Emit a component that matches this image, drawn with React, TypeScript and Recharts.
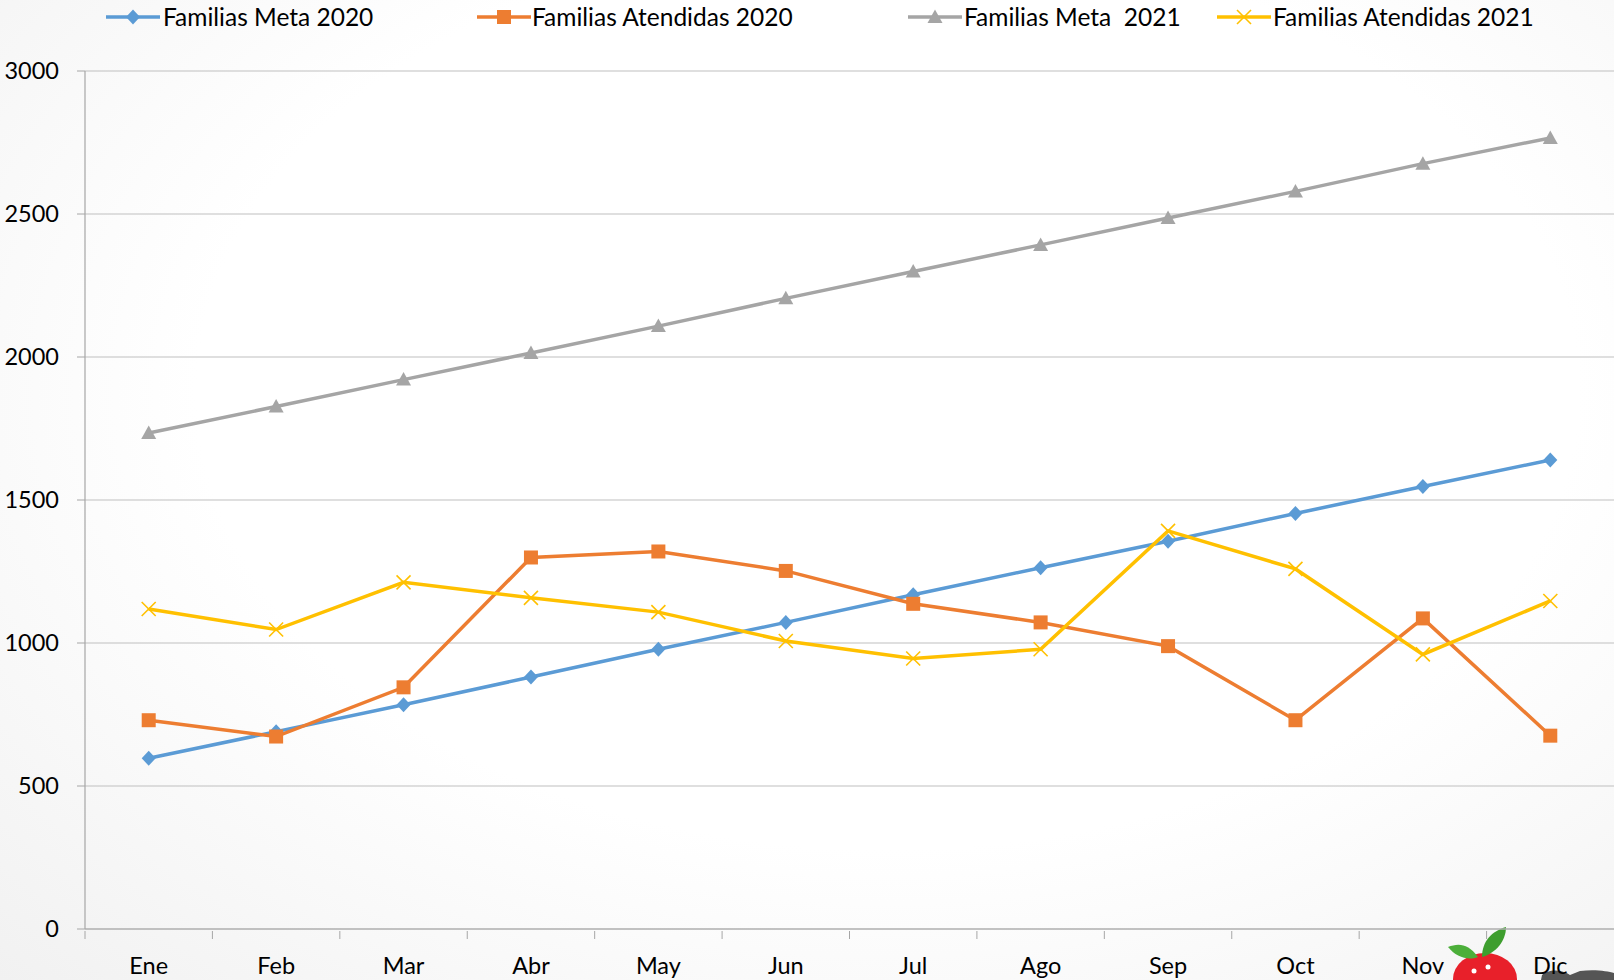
import React from 'react';
import { LineChart, Line, XAxis, YAxis, CartesianGrid } from 'recharts';

const months = ['Ene', 'Feb', 'Mar', 'Abr', 'May', 'Jun', 'Jul', 'Ago', 'Sep', 'Oct', 'Nov', 'Dic'];
const meta2020 = [597, 690, 784, 881, 978, 1072, 1169, 1263, 1356, 1453, 1547, 1640];
const atendidas2020 = [730, 673, 845, 1299, 1320, 1252, 1137, 1072, 989, 730, 1086, 676];
const meta2021 = [1734, 1827, 1921, 2014, 2108, 2205, 2299, 2392, 2486, 2579, 2676, 2766];
const atendidas2021 = [1119, 1047, 1212, 1158, 1108, 1007, 946, 978, 1392, 1259, 960, 1147];
const yTicks = [0, 500, 1000, 1500, 2000, 2500, 3000];

const W = 1614;
const H = 980;
const AXIS_X = 85;
const BAND = (W - AXIS_X) / 12;
const FONT = "Lato, 'Open Sans', sans-serif";

const data = months.map((m, i) => ({
  month: m,
  meta2020: meta2020[i],
  atendidas2020: atendidas2020[i],
  meta2021: meta2021[i],
  atendidas2021: atendidas2021[i],
}));

type Shape = 'diamond' | 'square' | 'triangle' | 'x';

const series: { key: string; name: string; color: string; shape: Shape; lineX: number; textX: number }[] = [
  { key: 'meta2020', name: 'Familias Meta 2020', color: '#5b9bd5', shape: 'diamond', lineX: 106, textX: 163 },
  { key: 'atendidas2020', name: 'Familias Atendidas 2020', color: '#ed7d31', shape: 'square', lineX: 477, textX: 532 },
  { key: 'meta2021', name: 'Familias Meta  2021', color: '#a5a5a5', shape: 'triangle', lineX: 908, textX: 964 },
  { key: 'atendidas2021', name: 'Familias Atendidas 2021', color: '#ffc000', shape: 'x', lineX: 1217, textX: 1273 },
];

const marker = (shape: Shape, cx: number, cy: number, color: string, key?: string | number) => {
  switch (shape) {
    case 'diamond':
      return <polygon key={key} points={`${cx},${cy - 7.5} ${cx + 7},${cy} ${cx},${cy + 7.5} ${cx - 7},${cy}`} fill={color} />;
    case 'square':
      return <rect key={key} x={cx - 7} y={cy - 7} width={14} height={14} fill={color} />;
    case 'triangle':
      return <polygon key={key} points={`${cx},${cy - 7.5} ${cx + 7.5},${cy + 6} ${cx - 7.5},${cy + 6}`} fill={color} />;
    default:
      return (
        <g key={key} stroke={color} strokeWidth={1.6}>
          <line x1={cx - 7} y1={cy - 7} x2={cx + 7} y2={cy + 7} />
          <line x1={cx - 7} y1={cy + 7} x2={cx + 7} y2={cy - 7} />
        </g>
      );
  }
};

const MonthTick = (props: any) => {
  const { x, y, payload } = props;
  return (
    <g>
      <line x1={x - BAND / 2} y1={y} x2={x - BAND / 2} y2={y + 8} stroke="#a6a6a6" />
      <text x={x} y={y + 43} textAnchor="middle" fill="#000" fontSize={23.5} fontFamily={FONT}>
        {payload.value}
      </text>
    </g>
  );
};

const App = () => {
  return (
    <div
      style={{
        position: 'absolute',
        left: 0,
        top: 0,
        width: W,
        height: H,
        overflow: 'hidden',
        background: 'radial-gradient(ellipse at 55% 40%, #ffffff 55%, #f1f1f1 100%)',
        fontFamily: FONT,
      }}
    >
      {/* logo in the bottom-right corner, behind the chart */}
      <svg width={184} height={60} style={{ position: 'absolute', left: 1430, top: 925 }}>
        <ellipse cx={55} cy={54} rx={32} ry={26} fill="#e8202a" />
        <circle cx={44} cy={46} r={2.5} fill="#fff" />
        <circle cx={58} cy={42} r={2.5} fill="#fff" />
        <path d="M48,32 C38,18 28,18 18,22 C26,32 38,36 48,32 Z" fill="#4caf3a" />
        <path d="M52,32 C52,16 62,6 76,2 C76,16 66,28 52,32 Z" fill="#3e9e2e" />
        <path d="M110,60 L112,50 C118,44 132,44 140,50 L150,46 C164,44 178,46 184,48 L184,60 Z" fill="#555" />
      </svg>
      {series.map((s) => (
        <div key={s.key} style={{ position: 'absolute', left: s.lineX, top: 0, height: 34 }}>
          <svg width={56} height={34} style={{ position: 'absolute', left: 0, top: 0 }}>
            <line x1={0} y1={17} x2={54} y2={17} stroke={s.color} strokeWidth={3.5} />
            {marker(s.shape, 27, 17, s.color)}
          </svg>
          <span
            style={{
              position: 'absolute',
              left: s.textX - s.lineX,
              top: 2,
              whiteSpace: 'pre',
              fontSize: 24.5,
              lineHeight: '30px',
              color: '#000',
            }}
          >
            {s.name}
          </span>
        </div>
      ))}
      <div style={{ position: 'absolute', left: 0, top: 0 }}>
        <LineChart width={W} height={H} data={data} margin={{ top: 71, right: 0, left: 0, bottom: 0 }}>
          <CartesianGrid vertical={false} stroke="#bfbfbf" strokeWidth={1.2} />
          <XAxis
            dataKey="month"
            height={51}
            axisLine={{ stroke: '#a6a6a6', strokeWidth: 1.2 }}
            tickLine={false}
            tickSize={0}
            tick={<MonthTick />}
            interval={0}
            padding={{ left: BAND / 2, right: BAND / 2 }}
          />
          <YAxis
            width={AXIS_X}
            domain={[0, 3000]}
            ticks={yTicks}
            axisLine={{ stroke: '#a6a6a6', strokeWidth: 1.2 }}
            tickLine={{ stroke: '#a6a6a6' }}
            tickSize={8}
            tickMargin={18}
            tick={{ fill: '#000', fontSize: 23.5, fontFamily: FONT }}
          />
          {series.map((s) => (
            <Line
              key={s.key}
              dataKey={s.key}
              name={s.name}
              stroke={s.color}
              strokeWidth={3.5}
              isAnimationActive={false}
              dot={(p: any) => marker(s.shape, p.cx, p.cy, s.color, `${s.key}-${p.index}`)}
              activeDot={false}
            />
          ))}
        </LineChart>
      </div>
    </div>
  );
};

export default App;
